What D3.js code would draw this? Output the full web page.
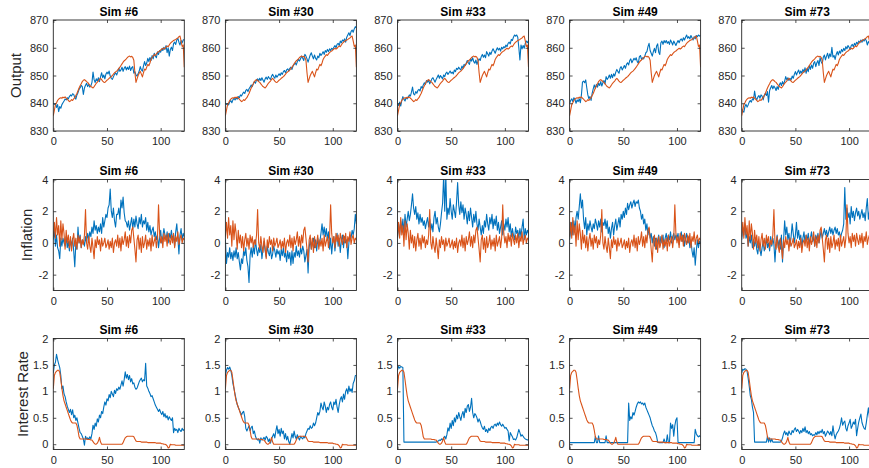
<!DOCTYPE html>
<html><head><meta charset="utf-8">
<script src="https://cdn.jsdelivr.net/npm/d3@7"></script>
<style>body{margin:0;background:#fff;overflow:hidden}svg{display:block}</style>
</head><body><svg id="c" width="869" height="468"></svg>
<script>
const simLabels = ["Sim #6","Sim #30","Sim #33","Sim #49","Sim #73"];
const rowLabels = ["Output","Inflation","Interest Rate"];
const xTicks = [0,50,100];
const outputTicks = [830,840,850,860,870];
const inflationTicks = [-2,0,2,4];
const rateTicks = [0,0.5,1,1.5,2];

// Actual data (orange), same in every panel of a row
const outputActual = [835.5,837.5,839.5,840.2,841.0,841.5,841.8,842.0,841.8,842.2,
842.0,842.3,841.8,841.5,841.0,840.6,840.8,841.3,841.0,841.6,
842.0,842.8,843.5,844.5,845.5,846.3,847.0,847.8,848.3,848.5,
848.2,847.8,847.5,847.0,846.5,846.0,845.8,845.5,846.0,846.6,
847.2,847.6,848.0,848.6,849.0,848.5,848.0,847.6,847.5,847.9,
848.3,848.6,849.0,849.3,849.6,850.0,850.5,851.0,851.3,851.6,
852.0,852.5,853.0,853.6,854.2,854.8,855.3,855.6,856.0,856.5,
856.8,857.0,856.7,856.9,856.5,855.5,851.0,847.5,848.8,850.0,
850.8,851.5,850.5,849.5,851.0,852.3,852.0,853.0,854.0,853.5,
854.5,855.8,856.5,857.0,857.5,857.2,857.8,858.3,858.6,858.8,
859.2,859.5,859.8,859.5,859.8,860.3,860.6,860.4,861.0,861.6,
862.0,862.3,862.6,862.8,863.0,863.3,863.5,864.0,864.2,862.5,
860.5,861.0,853.0];

const inflationActual = [0.4,1.3,0.3,1.6,0.5,1.1,-0.2,1.4,0.2,1.2,
0.6,-0.4,0.8,0.0,0.5,-0.3,0.4,-0.5,0.2,0.6,
-0.2,0.3,-0.4,0.5,0.0,0.4,-0.3,0.2,-0.1,0.5,
2.1,0.0,-0.4,0.4,-0.2,-0.6,0.3,-0.3,-1.0,0.2,
-0.3,0.4,-0.1,0.2,-0.5,0.3,-0.2,0.0,0.3,-0.3,
-0.1,0.2,-0.4,0.1,-0.3,0.3,-0.6,0.0,0.2,-0.2,
0.5,-0.3,0.3,-0.5,0.4,-0.1,0.2,0.7,-0.2,0.4,
-0.3,0.5,0.0,0.8,1.0,0.3,-0.4,-1.2,0.2,0.5,
-0.4,0.3,-0.6,0.4,-0.3,0.0,0.5,-0.4,0.2,-0.2,
0.3,-0.5,0.5,-0.2,0.1,0.4,-0.3,0.3,2.4,0.6,
0.0,0.4,-0.3,0.6,0.1,0.5,-0.2,0.6,0.2,-0.1,
0.5,0.0,0.6,-0.3,0.4,0.1,0.7,-0.1,0.3,0.5,
0.0,0.3,0.2];

const rateActual = [1.05,1.30,1.36,1.38,1.40,1.40,1.36,1.22,1.06,0.92,
0.82,0.76,0.70,0.64,0.58,0.52,0.46,0.42,0.40,0.40,
0.40,0.40,0.36,0.26,0.14,0.10,0.10,0.10,0.10,0.10,
0.10,0.10,0.09,0.09,0.09,0.08,0.08,0.05,0.02,0.00,
0.00,0.02,0.06,0.13,0.04,0.00,0.00,0.00,0.00,0.00,
0.00,0.00,0.00,0.00,0.00,0.00,0.00,0.00,0.00,0.00,
0.00,0.00,0.00,0.00,0.00,0.03,0.08,0.12,0.14,0.15,
0.15,0.15,0.15,0.15,0.15,0.14,0.10,0.06,0.05,0.05,
0.05,0.05,0.04,0.04,0.04,0.04,0.04,0.04,0.03,0.03,
0.03,0.03,0.03,0.03,0.03,0.03,0.02,0.02,0.02,0.02,
0.02,0.01,0.01,0.00,0.00,-0.01,-0.03,-0.07,-0.06,0.00,
-0.01,-0.01,-0.01,-0.01,-0.02,-0.02,-0.02,-0.02,-0.02,-0.02,
-0.02,-0.02,-0.02];

// Simulated paths (blue)
const outputSim6 = [840.0,839.6,839.8,838.5,839.5,837.0,838.8,838.2,839.5,840.2,
840.8,841.5,841.2,842.0,841.6,842.4,843.0,842.6,843.4,843.2,
842.0,841.5,843.0,843.8,845.0,845.6,846.4,846.0,843.2,845.5,
846.5,847.2,846.0,846.8,845.8,846.3,847.5,851.2,848.5,847.5,
848.8,848.0,849.2,847.8,849.5,851.0,849.2,850.2,848.8,850.5,
851.2,850.6,851.6,849.8,849.0,848.6,849.5,850.4,851.0,850.2,
851.2,852.6,851.5,852.0,853.0,851.5,852.6,853.2,852.0,853.0,
852.2,853.4,851.8,852.8,853.2,850.8,851.4,850.2,849.8,850.6,
851.6,853.2,852.0,851.6,853.5,855.0,853.6,854.5,856.2,855.0,
856.5,855.4,857.2,856.0,858.0,857.0,856.4,858.5,857.6,859.0,
858.4,859.6,859.0,860.2,859.4,860.8,858.2,860.0,857.0,859.4,
860.2,859.0,861.5,862.0,861.2,862.8,863.4,862.0,861.0,862.6,
861.8,862.8,863.0];
const outputSim30 = [840.0,839.6,839.8,839.4,840.5,841.0,840.2,841.2,841.8,841.2,
842.0,841.5,842.4,842.0,843.0,842.6,843.4,844.0,843.5,844.6,
845.0,844.2,845.2,845.8,846.6,846.0,847.0,847.8,847.2,848.4,
848.8,848.0,849.0,848.2,849.2,848.4,847.6,848.8,849.4,848.6,
849.6,849.0,848.6,849.8,850.4,849.6,849.0,850.2,849.4,850.0,
850.6,850.0,851.0,850.4,851.4,851.8,851.0,852.0,852.4,851.6,
852.6,853.0,852.2,853.4,854.0,854.6,853.8,855.0,855.8,855.2,
856.0,857.0,856.2,855.4,857.6,857.0,856.0,854.8,856.2,857.4,
858.2,857.0,856.0,857.4,856.2,855.6,857.0,856.4,858.0,857.2,
857.8,858.6,857.6,859.0,858.4,859.4,858.6,859.6,859.0,859.8,
859.4,860.2,860.8,860.0,861.2,861.6,860.8,862.4,861.8,862.8,
862.4,863.2,862.0,863.8,864.6,865.4,864.4,865.8,866.4,865.6,
866.8,867.6,867.2];
const outputSim33 = [840.0,839.2,840.4,839.0,841.0,842.4,841.4,840.8,842.0,841.6,
842.2,843.0,842.6,844.0,845.8,843.4,843.0,844.2,843.6,844.6,
845.0,844.4,846.0,845.4,846.6,847.4,846.8,848.2,847.6,848.4,
847.0,847.8,848.8,849.2,848.4,847.6,848.6,849.4,850.2,849.0,
850.0,849.4,848.8,850.2,849.6,850.8,851.2,850.4,851.0,851.6,
850.8,851.2,850.6,852.0,851.4,852.6,852.2,853.0,852.4,852.0,
853.4,852.6,854.0,853.6,854.4,855.4,854.6,854.0,856.0,855.2,
856.4,855.0,854.4,855.6,854.0,855.2,856.0,855.4,856.8,857.6,
856.6,857.4,856.4,858.6,857.8,857.0,858.4,857.6,858.8,859.6,
858.8,858.0,859.2,860.0,859.2,859.8,858.8,860.2,859.6,860.4,
860.0,861.0,860.4,861.6,862.0,861.4,863.0,862.6,863.8,864.6,
864.2,864.6,863.8,860.0,855.6,861.0,859.6,860.8,859.8,861.6,
862.4,861.8,862.6];
const outputSim49 = [840.0,841.0,841.6,840.6,842.0,841.4,840.0,841.2,840.6,841.6,
840.2,843.0,847.6,848.0,847.4,848.4,845.6,843.0,841.6,842.4,
841.0,843.6,845.2,846.6,845.4,846.8,845.8,847.2,846.4,847.8,
846.2,847.4,848.2,847.0,849.6,848.6,849.2,850.2,849.0,850.4,
849.2,850.6,849.8,851.2,852.2,851.4,850.8,852.6,853.2,852.0,
852.8,853.6,852.6,854.0,854.6,853.8,855.4,856.0,854.6,855.4,
856.2,855.6,856.4,855.0,854.4,856.8,857.2,855.8,856.4,856.0,
857.0,858.2,858.6,860.4,861.6,859.0,858.0,857.0,858.6,859.8,
858.2,860.6,861.4,858.4,857.6,861.8,862.4,861.2,862.6,861.8,
862.6,861.6,862.2,861.2,862.8,862.0,861.0,862.4,861.6,860.8,
861.8,862.6,861.8,862.8,863.2,862.4,863.6,862.8,863.8,864.6,
863.4,864.0,863.2,864.4,863.6,862.8,864.0,863.2,864.4,864.0,
864.6,864.2,864.4];
const outputSim73 = [838.0,837.2,836.8,838.8,839.6,838.6,839.4,840.4,841.0,840.4,
841.6,841.2,844.4,842.0,841.2,842.2,842.8,841.8,843.0,842.6,
841.2,842.8,843.6,842.8,844.2,840.4,844.6,845.6,846.4,845.2,
846.2,845.6,844.6,846.0,845.0,846.6,847.4,846.4,847.8,846.8,
848.0,849.6,848.4,849.2,848.2,849.0,848.4,849.8,849.0,850.4,
851.4,850.2,851.2,852.0,850.6,851.6,850.8,852.2,851.2,852.8,
850.8,852.6,851.4,853.6,852.2,853.8,852.6,854.4,855.0,853.2,
854.6,855.4,853.6,856.4,855.0,854.2,856.6,857.4,855.6,857.0,
858.0,856.2,857.8,856.8,860.2,856.6,857.2,855.8,857.6,858.6,
857.4,858.8,858.0,859.4,858.6,859.8,859.0,860.4,859.6,860.8,
860.2,859.4,860.8,861.2,860.4,861.6,860.8,862.0,861.4,862.4,
861.8,862.8,862.0,863.0,862.4,863.2,862.6,861.0,862.2,861.6,
862.4,862.0,862.6];

const inflationSim6 = [0.2,0.8,-0.2,0.5,-0.3,-0.5,-1.0,0.3,-0.2,0.3,
0.0,-0.2,0.4,-0.3,0.1,-0.5,0.2,-0.2,0.3,-0.5,
-1.5,0.0,-0.4,1.0,0.0,0.5,-0.3,0.2,0.1,-0.2,
0.4,0.0,0.6,0.2,0.7,0.4,1.0,0.6,1.4,0.8,
1.1,0.6,1.0,0.7,1.2,0.6,1.6,1.0,1.4,1.8,
1.6,2.2,2.4,3.4,2.0,1.6,2.2,1.4,1.0,1.8,
1.8,2.2,1.5,2.7,2.2,2.9,1.9,1.4,1.3,1.0,
1.4,0.8,1.2,1.6,0.9,1.5,1.0,1.7,1.2,0.9,
1.6,1.2,1.8,1.0,1.4,1.2,1.6,0.8,1.3,0.7,
1.1,0.5,0.8,1.0,0.4,0.7,0.2,0.5,-0.3,0.3,
0.8,0.0,0.4,0.9,0.5,0.2,0.7,0.0,0.6,0.3,
0.8,0.2,0.5,-0.2,0.7,1.2,0.3,-0.7,0.5,0.9,
0.2,0.6,0.4];
const inflationSim30 = [0.2,-1.3,-0.6,-0.9,-0.3,-1.0,-0.6,-1.1,-0.5,-0.9,
-0.3,-1.0,-0.6,-1.2,-1.7,-1.0,-1.3,-0.5,-0.8,-0.3,
-1.1,-1.5,-2.5,-0.8,-0.3,-0.9,-0.2,-0.7,0.2,-0.4,
-0.8,-0.3,-0.6,-0.1,-1.0,-0.4,0.1,-0.5,-0.9,-0.2,
-0.6,-0.8,-0.3,-1.0,-0.7,-0.2,-0.5,-0.9,-0.4,-0.7,
-0.5,-1.1,-0.4,-0.8,-0.3,-0.9,-0.6,-1.2,-0.5,-1.0,
-0.6,-1.4,-0.5,-1.3,-0.6,-0.9,-0.2,-0.8,-0.5,-0.9,
-0.3,-0.7,-0.2,-0.5,-1.2,-0.8,-0.4,-1.9,-0.3,0.2,
-0.4,0.0,0.3,-0.3,0.2,-0.5,0.3,-0.2,0.1,0.6,
1.2,0.5,1.0,0.4,0.9,0.2,0.7,-0.4,0.3,-0.7,
0.1,0.4,-0.5,0.2,0.6,-0.2,0.3,-0.6,0.2,0.5,
-0.3,0.4,0.0,0.2,-1.0,0.0,0.5,0.3,0.8,0.5,
0.9,1.8,1.2];
const inflationSim33 = [0.3,1.2,0.5,1.4,0.8,1.5,0.6,1.8,1.0,1.5,
2.0,1.4,1.8,2.4,3.1,2.2,1.8,2.3,1.5,1.9,
1.2,1.8,1.3,1.6,1.1,1.4,0.9,1.3,1.6,1.0,
1.5,0.8,1.2,0.7,1.6,2.0,1.2,1.6,1.0,0.7,
1.2,1.9,2.5,4.3,2.0,4.3,1.5,2.2,1.8,2.8,
2.0,1.5,2.4,2.0,1.6,2.6,3.8,2.4,1.8,2.6,
1.9,2.4,1.5,2.2,1.8,1.2,2.0,1.4,2.2,1.6,
1.0,1.8,1.3,2.0,1.2,0.8,1.5,1.0,0.5,1.1,
0.6,1.4,1.0,1.8,1.2,0.8,1.6,1.2,1.8,0.9,
1.5,1.1,1.7,0.8,1.3,0.6,1.0,1.4,0.5,1.2,
0.8,1.5,1.0,1.6,0.7,1.2,0.4,0.9,0.5,0.2,
1.0,0.6,0.8,0.3,0.9,0.4,1.0,1.5,0.2,0.9,
0.5,0.8,0.6];
const inflationSim49 = [0.2,0.8,1.3,0.5,1.4,0.8,1.6,2.0,1.5,2.3,
3.1,2.2,2.7,1.5,0.9,1.6,0.5,1.2,0.8,1.4,
1.0,0.7,1.2,0.9,1.5,1.2,0.8,1.4,1.0,1.5,
0.7,1.3,1.1,1.5,0.9,1.4,0.6,1.0,0.3,0.9,
1.3,0.5,1.1,1.5,0.8,1.2,1.6,1.0,1.8,1.5,
2.0,1.6,2.2,1.8,2.5,2.1,2.4,2.6,2.2,2.5,
2.7,2.3,2.6,2.5,2.7,2.2,2.0,1.5,1.8,1.2,
1.5,0.8,1.2,0.5,0.9,0.3,0.6,0.0,0.4,-0.2,
0.3,-0.4,0.2,0.5,-0.2,0.4,0.0,0.5,-0.3,0.3,
0.6,0.1,0.5,0.2,0.7,0.0,0.4,0.6,0.2,0.5,
0.3,0.6,-0.1,0.4,0.7,0.1,0.5,-0.2,0.3,0.6,
0.0,0.4,-0.3,0.2,-0.5,-0.9,-0.3,-1.4,-0.5,0.2,
-0.3,0.1,0.0];
const inflationSim73 = [0.2,1.0,0.5,1.2,0.3,0.6,-0.2,0.4,0.0,0.5,
-0.3,0.2,-0.2,0.3,-0.4,-0.7,0.0,-0.4,-0.8,-0.3,
0.1,-0.5,-0.2,0.3,-0.3,0.0,-0.5,0.4,-0.2,0.3,
-0.1,-1.2,0.0,0.5,-0.3,0.2,-0.4,0.5,-1.2,0.2,
1.4,0.5,1.0,0.2,0.6,-0.2,0.4,1.2,0.6,0.0,
0.5,1.3,0.3,0.8,0.2,0.5,-0.3,0.3,0.7,0.0,
0.5,0.2,0.6,-0.1,0.3,0.7,0.1,0.4,-0.2,0.5,
0.2,0.6,0.0,0.4,0.8,0.3,0.6,0.9,0.5,0.8,
0.4,0.7,1.0,0.6,0.9,0.5,0.8,1.0,0.6,0.9,
0.5,0.7,0.3,0.6,0.8,1.2,3.5,1.5,2.2,1.6,
1.9,1.2,2.3,1.6,2.0,1.4,1.9,2.2,1.7,2.0,
1.5,1.8,2.1,1.6,1.9,1.4,2.2,2.8,1.5,2.0,
1.8,2.2,2.0];

const rateSim6 = [1.35,1.50,1.55,1.70,1.60,1.52,1.45,1.30,1.05,1.10,
0.95,0.90,0.80,0.72,0.66,0.60,0.66,0.56,0.65,0.50,
0.55,0.45,0.50,0.40,0.30,0.22,0.20,0.15,0.10,-0.02,
0.15,0.10,0.12,0.09,0.14,0.10,0.20,0.36,0.28,0.40,
0.34,0.48,0.42,0.55,0.50,0.62,0.58,0.70,0.80,0.74,
0.86,0.82,0.94,0.88,1.00,0.95,0.90,1.02,0.96,1.05,
1.02,1.08,1.04,1.12,1.20,1.10,1.22,1.37,1.25,1.32,
1.22,1.30,1.18,1.24,1.14,1.16,1.08,1.04,1.06,1.12,
1.18,1.22,1.25,1.18,1.22,1.20,1.53,1.10,1.06,1.00,
0.96,0.90,0.92,0.86,0.80,0.74,0.70,0.66,0.62,0.66,
0.60,0.56,0.62,0.52,0.58,0.50,0.54,0.46,0.52,0.48,
0.45,0.50,0.22,0.30,0.26,0.28,0.22,0.30,0.26,0.24,
0.30,0.26,0.28];
const rateSim30 = [1.30,1.40,1.45,1.42,1.46,1.40,1.30,1.15,1.05,0.95,
0.85,0.75,0.70,0.65,0.60,0.55,0.60,0.62,0.52,0.30,
0.25,0.30,0.35,0.25,0.32,0.34,0.20,0.25,0.15,0.10,
0.08,0.10,0.02,0.12,0.08,0.10,0.13,0.08,0.15,0.12,
0.05,0.10,0.02,0.10,0.15,0.20,0.12,0.25,0.35,0.20,
0.28,0.15,0.30,0.20,0.25,0.10,0.20,0.08,0.15,0.05,
0.00,0.10,0.20,0.12,0.25,0.15,0.10,0.18,0.12,0.08,
0.15,0.12,0.10,0.15,0.12,0.20,0.25,0.30,0.28,0.35,
0.30,0.32,0.40,0.35,0.40,0.50,0.60,0.55,0.62,0.78,
0.70,0.65,0.80,0.72,0.60,0.70,0.65,0.75,0.80,0.70,
0.65,0.80,0.75,0.85,0.70,0.60,0.75,0.85,0.90,0.80,
0.95,0.85,1.00,1.05,0.95,1.10,1.00,1.05,0.98,1.15,
1.20,1.30,1.30];
const rateSim33 = [1.40,1.47,1.44,1.47,1.46,1.45,0.04,0.04,0.04,0.04,
0.04,0.04,0.04,0.04,0.04,0.04,0.04,0.04,0.04,0.04,
0.04,0.04,0.04,0.04,0.04,0.04,0.04,0.04,0.04,0.04,
0.04,0.04,0.04,0.04,0.04,0.04,0.04,
0.05,0.06,0.08,0.07,0.10,0.08,0.12,0.15,0.10,0.18,
0.31,0.25,0.40,0.30,0.45,0.35,0.50,0.42,0.55,0.48,
0.60,0.52,0.45,0.56,0.62,0.50,0.68,0.60,0.72,0.75,
0.62,0.70,0.87,0.60,0.50,0.58,0.55,0.50,0.42,0.48,
0.43,0.36,0.31,0.28,0.34,0.24,0.28,0.22,0.30,0.26,
0.32,0.34,0.30,0.36,0.38,0.34,0.40,0.36,0.42,0.37,
0.34,0.38,0.34,0.30,0.32,0.28,0.25,0.06,0.22,0.18,
0.14,0.09,0.10,0.08,0.12,0.20,0.28,0.22,0.15,0.18,
0.15,0.12,0.10,0.09,0.08,0.09];
const rateSim49 = [0.03,0.03,0.03,0.03,0.03,0.03,0.03,0.03,0.03,0.03,
0.03,0.03,0.03,0.03,0.03,0.03,0.03,0.03,0.03,0.03,
0.03,0.03,0.03,0.03,
0.15,0.03,0.03,0.16,0.03,0.03,0.03,0.03,0.03,0.03,
0.16,0.03,0.03,0.03,0.03,0.03,0.03,0.03,0.03,0.03,
0.03,0.03,0.03,0.03,0.03,0.03,0.03,0.03,0.03,0.03,
0.03,0.78,0.45,0.52,0.48,0.60,0.55,0.62,0.70,0.76,
0.80,0.78,0.80,0.76,0.78,0.74,0.78,0.70,0.65,0.60,
0.55,0.50,0.42,0.35,0.31,0.25,0.22,0.15,0.04,0.03,
0.03,0.03,0.03,0.03,0.10,0.03,0.03,0.18,0.03,0.03,
0.40,0.30,0.37,0.15,0.35,0.46,0.50,0.03,0.03,0.03,
0.03,0.03,0.03,0.03,0.03,0.03,0.03,0.03,0.03,0.03,
0.03,0.03,0.03,0.28,0.20,0.16,0.14,0.16,0.14];
const rateSim73 = [1.35,1.42,1.40,1.43,1.42,1.38,1.25,1.10,0.92,0.85,
0.70,0.60,0.04,0.04,0.04,0.04,0.04,0.04,0.04,0.04,
0.04,0.04,0.04,0.04,0.15,0.04,0.12,0.04,0.10,0.04,
0.04,0.04,0.04,0.04,0.04,0.04,0.04,0.06,0.12,0.20,
0.25,0.18,0.22,0.16,0.25,0.20,0.18,0.26,0.22,0.28,
0.31,0.24,0.28,0.25,0.20,0.26,0.22,0.30,0.24,0.33,
0.22,0.26,0.20,0.24,0.18,0.20,0.16,0.18,0.17,0.22,
0.18,0.24,0.20,0.25,0.22,0.28,0.20,0.24,0.15,0.20,
0.25,0.22,0.18,0.24,0.16,0.35,0.20,0.10,0.18,0.22,
0.25,0.30,0.38,0.50,0.36,0.41,0.44,0.30,0.25,0.35,
0.40,0.47,0.30,0.35,0.42,0.38,0.47,0.16,0.30,0.42,
0.50,0.57,0.41,0.35,0.30,0.28,0.40,0.55,0.69,0.50,
0.60,0.55,0.58];

const rows = [
  {label: rowLabels[0], actual: outputActual, sims: [outputSim6,outputSim30,outputSim33,outputSim49,outputSim73], domain: [830,870], ticks: outputTicks},
  {label: rowLabels[1], actual: inflationActual, sims: [inflationSim6,inflationSim30,inflationSim33,inflationSim49,inflationSim73], domain: [-3,4], ticks: inflationTicks},
  {label: rowLabels[2], actual: rateActual, sims: [rateSim6,rateSim30,rateSim33,rateSim49,rateSim73], domain: [-0.1,2], ticks: rateTicks}
];

// ---- layout ----
const colLeft = [53.3, 225.4, 397.5, 569.6, 741.7];
const rowTop = [20, 179.5, 338.5];
const labelX = [21, 32, 28];
const panelW = 131, panelH = 111;
const ink = "#262626";
const font = "'Liberation Sans', Arial, Helvetica, sans-serif";

const svg = d3.select("#c");
svg.append("rect").attr("width", 869).attr("height", 468).attr("fill", "#fff");

const x = d3.scaleLinear().domain([0, 122]).range([0, panelW]);

rows.forEach((row, r) => {
  const y = d3.scaleLinear().domain(row.domain).range([panelH, 0]);
  const line = d3.line().x((d, j) => x(j)).y(d => y(d));

  simLabels.forEach((sim, i) => {
    const g = svg.append("g").attr("transform", `translate(${colLeft[i]},${rowTop[r]})`);
    const cid = `clip-${r}-${i}`;
    g.append("clipPath").attr("id", cid).append("rect").attr("width", panelW).attr("height", panelH);

    const pg = g.append("g").attr("clip-path", `url(#${cid})`);
    pg.append("path").datum(row.sims[i]).attr("d", line)
      .attr("fill", "none").attr("stroke", "#0072BD").attr("stroke-width", 1.1).attr("stroke-linejoin", "round");
    pg.append("path").datum(row.actual).attr("d", line)
      .attr("fill", "none").attr("stroke", "#D95319").attr("stroke-width", 1.1).attr("stroke-linejoin", "round");

    // axes
    const styleAxis = sel => {
      sel.select(".domain").remove();
      sel.selectAll(".tick line").attr("stroke", ink).attr("stroke-width", 0.8);
      sel.selectAll(".tick text").attr("fill", ink).style("font-family", font).style("font-size", "11px");
    };
    g.append("g").attr("transform", `translate(0,${panelH})`)
      .call(d3.axisBottom(x).tickValues(xTicks).tickSizeInner(-3).tickSizeOuter(0).tickPadding(6.5))
      .call(styleAxis);
    g.append("g")
      .call(d3.axisTop(x).tickValues(xTicks).tickSizeInner(-3).tickSizeOuter(0).tickFormat(""))
      .call(styleAxis);
    g.append("g")
      .call(d3.axisLeft(y).tickValues(row.ticks).tickSizeInner(-3).tickSizeOuter(0).tickPadding(5).tickFormat(d => String(d)))
      .call(styleAxis);
    g.append("g").attr("transform", `translate(${panelW},0)`)
      .call(d3.axisRight(y).tickValues(row.ticks).tickSizeInner(-3).tickSizeOuter(0).tickFormat(""))
      .call(styleAxis);

    g.append("rect").attr("width", panelW).attr("height", panelH)
      .attr("fill", "none").attr("stroke", ink).attr("stroke-width", 0.9);

    g.append("text").attr("x", panelW / 2).attr("y", -4.5)
      .attr("text-anchor", "middle").attr("fill", "#000")
      .style("font-family", font).style("font-size", "12px").style("font-weight", "bold")
      .text(sim);
  });

  svg.append("text")
    .attr("transform", `translate(${labelX[r]},${rowTop[r] + panelH / 2}) rotate(-90)`)
    .attr("text-anchor", "middle").attr("fill", ink)
    .style("font-family", font).style("font-size", "15px")
    .text(row.label);
});
</script>
</body></html>
